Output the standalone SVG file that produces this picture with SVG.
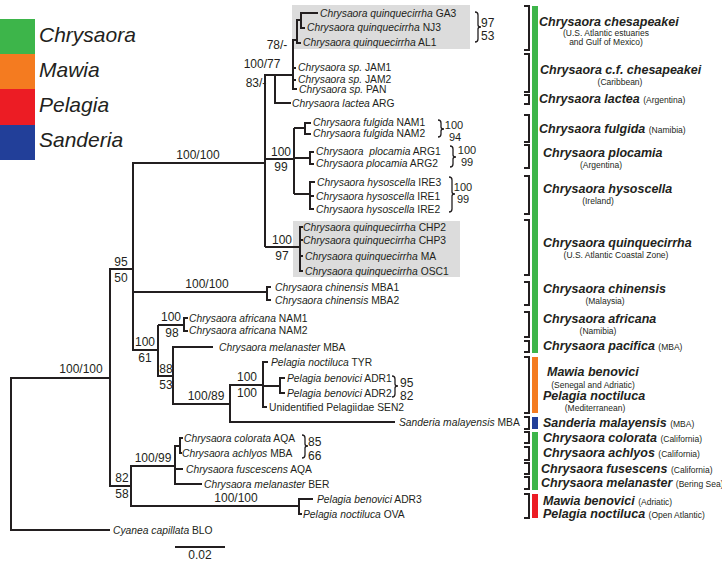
<svg xmlns="http://www.w3.org/2000/svg" width="722" height="563" viewBox="0 0 722 563">
<style>
text{font-family:"Liberation Sans",Arial,sans-serif;fill:#231f20}
.tx{font-size:10.3px}
.it{font-style:italic}
.sp{font-size:12px}
.spm{font-size:12px;text-anchor:middle}
.sps{font-size:11px;text-anchor:middle}
.lg{font-size:21px;font-style:italic}
.cl{font-size:12.5px;font-weight:bold;font-style:italic}
.loc{font-size:8.5px;font-weight:normal;font-style:normal}
.locm{font-size:8.5px;text-anchor:middle}
.br{fill:none;stroke:#231f20;stroke-width:2}
.tree path{fill:none;stroke:#231f20;stroke-width:2}
.brace{fill:none;stroke:#231f20;stroke-width:1.3}
.box{fill:#dcdcdc}
</style>
<rect width="722" height="563" fill="#fff"/>

<!-- legend -->
<g id="legend">
<g id="leg-chrysaora"><rect x="0" y="19" width="35" height="35" fill="#3db54a"/><text class="lg" x="39" y="42">Chrysaora</text></g>
<g id="leg-mawia"><rect x="0" y="54" width="35" height="35" fill="#f47b20"/><text class="lg" x="39" y="77">Mawia</text></g>
<g id="leg-pelagia"><rect x="0" y="89" width="35" height="36" fill="#ec1c24"/><text class="lg" x="39" y="112">Pelagia</text></g>
<g id="leg-sanderia"><rect x="0" y="125" width="35" height="35" fill="#223f99"/><text class="lg" x="39" y="147">Sanderia</text></g>
</g>

<!-- gray highlight boxes -->
<rect class="box" x="292" y="5" width="178" height="44"/>
<rect class="box" x="293" y="221" width="167" height="56"/>

<!-- connectors (tree branches) -->
<g id="connectors" class="tree">
<path d="M110,378 H11 V530 H110"/>
<path d="M133,269 H110 V486 H131"/>
<path d="M265,163 H133 V350 H158"/>
<path d="M133,292 H267"/>
<path d="M271,287 H267 V300 H271"/>
<path d="M158,325 H184"/>
<path d="M188,318 H184 V331 H188"/>
<path d="M158,325 V376 H173"/>
<path d="M213,347 H173 V404 H230"/>
<path d="M263,385 H230 V422 H395"/>
<path d="M268,362 H263 V407 H267"/>
<path d="M263,386 H280"/>
<path d="M285,378 H280 V393 H285"/>
<path d="M175,466 H131 V506 H299"/>
<path d="M313,499 H299 V514 H302"/>
<path d="M183,469 H175"/>
<path d="M180,446 H175 V484 H202"/>
<path d="M183,438 H180 V453 H182"/>
<path d="M265,247 V75 H293"/>
<path d="M265,247 H300"/>
<path d="M275,75 V103 H291"/>
<path d="M297,40 H293 V89 H297"/>
<path d="M293,68 H296"/>
<path d="M293,80 H296"/>
<path d="M301,20 H297 V43 H301"/>
<path d="M318,13 H301 V28 H305"/>
<path d="M265,159 H294"/>
<path d="M294,128 V194"/>
<path d="M294,128 H305"/>
<path d="M294,158 H310"/>
<path d="M294,194 H310"/>
<path d="M311,123 H305 V134 H311"/>
<path d="M314,152 H310 V164 H314"/>
<path d="M315,182 H310 V209 H314"/>
<path d="M310,196 H314"/>
<path d="M303,227 H300 V271 H303"/>
<path d="M300,240 H303"/>
<path d="M300,256 H303"/>
<path d="M175,547 H225"/>
</g>

<!-- braces -->
<g id="braces">
<path class="brace" d="M475,12 q3,0 3,3 V25 q0,2 3,2 q-3,0 -3,2 V39 q0,3 -3,3"/>
<path class="brace" d="M438,120 q3,0 3,3 V127 q0,2 3,2 q-3,0 -3,2 V134 q0,3 -3,3"/>
<path class="brace" d="M450,146 q3,0 3,3 V155 q0,2 3,2 q-3,0 -3,2 V164 q0,3 -3,3"/>
<path class="brace" d="M449,177 q3,0 3,3 V192 q0,2 3,2 q-3,0 -3,2 V209 q0,3 -3,3"/>
<path class="brace" d="M392,376 q3,0 3,3 V384 q0,2 3,2 q-3,0 -3,2 V394 q0,3 -3,3"/>
<path class="brace" d="M302,435 q3,0 3,3 V444 q0,2 3,2 q-3,0 -3,2 V455 q0,3 -3,3"/>
</g>

<!-- support values -->
<g id="support">
<text class="spm" x="277" y="49">78/-</text>
<text class="spm" x="262" y="68">100/77</text>
<text class="spm" x="256" y="87">83/-</text>
<text class="spm" x="198" y="159">100/100</text>
<text class="spm" x="281" y="156">100</text>
<text class="spm" x="281" y="171">99</text>
<text class="spm" x="282" y="244">100</text>
<text class="spm" x="282" y="260">97</text>
<text class="spm" x="121" y="266">95</text>
<text class="spm" x="121" y="282">50</text>
<text class="spm" x="81" y="373">100/100</text>
<text class="spm" x="207" y="288">100/100</text>
<text class="spm" x="171" y="321">100</text>
<text class="spm" x="172" y="337">98</text>
<text class="spm" x="145" y="346">100</text>
<text class="spm" x="145" y="362">61</text>
<text class="spm" x="166" y="373">88</text>
<text class="spm" x="166" y="389">53</text>
<text class="spm" x="206" y="400">100/89</text>
<text class="spm" x="247" y="381">100</text>
<text class="spm" x="247" y="397">100</text>
<text class="sp" x="400" y="387">95</text>
<text class="sp" x="400" y="400">82</text>
<text class="spm" x="122" y="482">82</text>
<text class="spm" x="122" y="498">58</text>
<text class="spm" x="153" y="462">100/99</text>
<text class="spm" x="236" y="502">100/100</text>
<text class="sp" x="308" y="446">85</text>
<text class="sp" x="308" y="460">66</text>
<text class="sps" x="454" y="129">100</text>
<text class="sps" x="455" y="141">94</text>
<text class="sps" x="467" y="154">100</text>
<text class="sps" x="467" y="166">99</text>
<text class="sps" x="463" y="191">100</text>
<text class="sps" x="463" y="203">99</text>
<text class="sp" x="481" y="27">97</text>
<text class="sp" x="481" y="40">53</text>
<text class="spm" x="200" y="559">0.02</text>
</g>

<!-- taxa -->
<g id="taxa" class="tx">
<g id="t-ga3"><text x="320" y="17"><tspan class="it">Chrysaora quinquecirrha</tspan> GA3</text></g>
<g id="t-nj3"><text x="307" y="31"><tspan class="it">Chrysaora quinquecirrha</tspan> NJ3</text></g>
<g id="t-al1"><text x="303" y="46"><tspan class="it">Chrysaora quinquecirrha</tspan> AL1</text></g>
<g id="t-jam1"><text x="298" y="71"><tspan class="it">Chrysaora sp.</tspan> JAM1</text></g>
<g id="t-jam2"><text x="298" y="83"><tspan class="it">Chrysaora sp.</tspan> JAM2</text></g>
<g id="t-pan"><text x="299" y="93"><tspan class="it">Chrysaora sp.</tspan> PAN</text></g>
<g id="t-lactea"><text x="292" y="107"><tspan class="it">Chrysaora lactea</tspan> ARG</text></g>
<g id="t-nam1"><text x="313" y="126"><tspan class="it">Chrysaora fulgida</tspan> NAM1</text></g>
<g id="t-nam2"><text x="313" y="137"><tspan class="it">Chrysaora fulgida</tspan> NAM2</text></g>
<g id="t-arg1"><text x="316" y="155" xml:space="preserve"><tspan class="it">Chrysaora  plocamia</tspan> ARG1</text></g>
<g id="t-arg2"><text x="316" y="167"><tspan class="it">Chrysaora plocamia</tspan> ARG2</text></g>
<g id="t-ire3"><text x="317" y="186"><tspan class="it">Chrysaora hysoscella</tspan> IRE3</text></g>
<g id="t-ire1"><text x="316" y="200"><tspan class="it">Chrysaora hysoscella</tspan> IRE1</text></g>
<g id="t-ire2"><text x="316" y="213"><tspan class="it">Chrysaora hysoscella</tspan> IRE2</text></g>
<g id="t-chp2"><text x="303" y="231"><tspan class="it">Chrysaora quinquecirrha</tspan> CHP2</text></g>
<g id="t-chp3"><text x="303" y="244"><tspan class="it">Chrysaora quinquecirrha</tspan> CHP3</text></g>
<g id="t-ma"><text x="305" y="260"><tspan class="it">Chrysaora quinquecirrha</tspan> MA</text></g>
<g id="t-osc1"><text x="305" y="275"><tspan class="it">Chrysaora quinquecirrha</tspan> OSC1</text></g>
<g id="t-mba1"><text x="275" y="291"><tspan class="it">Chrysaora chinensis</tspan> MBA1</text></g>
<g id="t-mba2"><text x="275" y="304"><tspan class="it">Chrysaora chinensis</tspan> MBA2</text></g>
<g id="t-afnam1"><text x="189" y="322"><tspan class="it">Chrysaora africana</tspan> NAM1</text></g>
<g id="t-afnam2"><text x="189" y="334"><tspan class="it">Chrysaora africana</tspan> NAM2</text></g>
<g id="t-melmba"><text x="219" y="351"><tspan class="it">Chrysaora melanaster</tspan> MBA</text></g>
<g id="t-tyr"><text x="271" y="366"><tspan class="it">Pelagia noctiluca</tspan> TYR</text></g>
<g id="t-adr1"><text x="287" y="382"><tspan class="it">Pelagia benovici</tspan> ADR1</text></g>
<g id="t-adr2"><text x="287" y="397"><tspan class="it">Pelagia benovici</tspan> ADR2</text></g>
<g id="t-sen2"><text x="269" y="411">Unidentified Pelagiidae SEN2</text></g>
<g id="t-sanderia"><text x="399" y="426"><tspan class="it">Sanderia malayensis</tspan> MBA</text></g>
<g id="t-colorata"><text x="184" y="442"><tspan class="it">Chrysaora colorata</tspan> AQA</text></g>
<g id="t-achlyos"><text x="182" y="457"><tspan class="it">Chrysaora achlyos</tspan> MBA</text></g>
<g id="t-fusc"><text x="186" y="473"><tspan class="it">Chrysaora fuscescens</tspan> AQA</text></g>
<g id="t-melber"><text x="204" y="488"><tspan class="it">Chrysaora melanaster</tspan> BER</text></g>
<g id="t-adr3"><text x="317" y="503"><tspan class="it">Pelagia benovici</tspan> ADR3</text></g>
<g id="t-ova"><text x="303" y="518"><tspan class="it">Pelagia noctiluca</tspan> OVA</text></g>
<g id="t-cyanea"><text x="113" y="534"><tspan class="it">Cyanea capillata</tspan> BLO</text></g>
</g>

<!-- colour bars -->
<g id="bars">
<rect x="532" y="6" width="6" height="347" fill="#3db54a"/>
<rect x="532" y="357" width="6" height="56" fill="#f47b20"/>
<rect x="532" y="417" width="6" height="12" fill="#223f99"/>
<rect x="532" y="432" width="6" height="58" fill="#3db54a"/>
<rect x="532" y="494" width="6" height="24" fill="#ec1c24"/>
</g>

<!-- right column clade labels -->
<g id="clades">
<g id="c-chesapeakei"><path class="br" d="M524,6 H529 V50 H524"/><text class="cl" x="539" y="26">Chrysaora chesapeakei</text><text class="locm" x="606" y="36">(U.S. Atlantic estuaries</text><text class="locm" x="606" y="45">and Gulf of Mexico)</text></g>
<g id="c-cfchesapeakei"><path class="br" d="M524,54 H529 V92 H524"/><text class="cl" x="540" y="74">Chrysaora c.f. chesapeakei</text><text class="locm" x="620" y="85">(Caribbean)</text></g>
<g id="c-lactea"><path class="br" d="M524,95 H529 V104 H524"/><text class="cl" x="539" y="103">Chrysaora lactea <tspan class="loc">(Argentina)</tspan></text></g>
<g id="c-fulgida"><path class="br" d="M524,115 H529 V142 H524"/><text class="cl" x="539" y="133">Chrysaora fulgida <tspan class="loc">(Namibia)</tspan></text></g>
<g id="c-plocamia"><path class="br" d="M524,145 H529 V168 H524"/><text class="cl" x="543" y="157">Chrysaora plocamia</text><text class="locm" x="601" y="168">(Argentina)</text></g>
<g id="c-hysoscella"><path class="br" d="M524,176 H529 V214 H524"/><text class="cl" x="543" y="193">Chrysaora hysoscella</text><text class="locm" x="598" y="204">(Ireland)</text></g>
<g id="c-quinquecirrha"><path class="br" d="M524,220 H529 V275 H524"/><text class="cl" x="543" y="247">Chrysaora quinquecirrha</text><text class="locm" x="616" y="258">(U.S. Atlantic Coastal Zone)</text></g>
<g id="c-chinensis"><path class="br" d="M524,282 H529 V305 H524"/><text class="cl" x="543" y="293">Chrysaora chinensis</text><text class="locm" x="605" y="304">(Malaysia)</text></g>
<g id="c-africana"><path class="br" d="M524,312 H529 V337 H524"/><text class="cl" x="543" y="323">Chrysaora africana</text><text class="locm" x="598" y="334">(Namibia)</text></g>
<g id="c-pacifica"><path class="br" d="M524,341 H529 V352 H524"/><text class="cl" x="543" y="350">Chrysaora pacifica <tspan class="loc">(MBA)</tspan></text></g>
<g id="c-mawia1"><path class="br" d="M524,357 H529 V413 H524"/><text class="cl" x="547" y="376">Mawia benovici</text><text class="locm" x="593" y="388">(Senegal and Adriatic)</text><text class="cl" x="543" y="400">Pelagia noctiluca</text><text class="locm" x="595" y="411">(Mediterranean)</text></g>
<g id="c-sanderia"><path class="br" d="M524,417 H529 V429 H524"/><text class="cl" x="543" y="427">Sanderia malayensis <tspan class="loc">(MBA)</tspan></text></g>
<g id="c-colorata"><path class="br" d="M524,432 H529 V443 H524"/><text class="cl" x="543" y="442">Chrysaora colorata <tspan class="loc">(California)</tspan></text></g>
<g id="c-achlyos"><path class="br" d="M524,447 H529 V460 H524"/><text class="cl" x="543" y="457">Chrysaora achlyos <tspan class="loc">(California)</tspan></text></g>
<g id="c-fusescens"><path class="br" d="M524,463 H529 V474 H524"/><text class="cl" x="541" y="473">Chrysaora fusescens <tspan class="loc">(California)</tspan></text></g>
<g id="c-melanaster"><path class="br" d="M524,477 H529 V489 H524"/><text class="cl" x="541" y="487">Chrysaora melanaster <tspan class="loc">(Bering Sea)</tspan></text></g>
<g id="c-mawia2"><path class="br" d="M524,494 H529 V518 H524"/><text class="cl" x="543" y="505">Mawia benovici <tspan class="loc">(Adriatic)</tspan></text><text class="cl" x="543" y="518">Pelagia noctiluca <tspan class="loc">(Open Atlantic)</tspan></text></g>
</g>
</svg>
